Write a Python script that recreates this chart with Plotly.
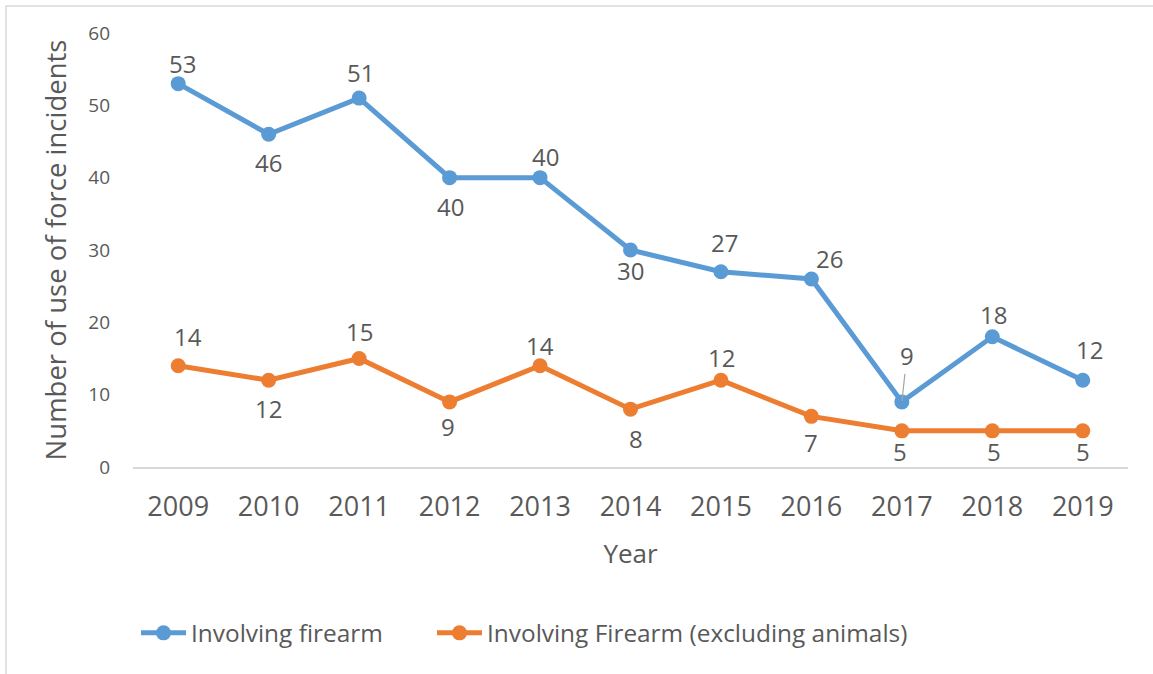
import plotly.graph_objects as go

# ---- data ----
years = ["2009", "2010", "2011", "2012", "2013", "2014",
         "2015", "2016", "2017", "2018", "2019"]
firearm = [53, 46, 51, 40, 40, 30, 27, 26, 9, 18, 12]
firearm_excl_animals = [14, 12, 15, 9, 14, 8, 12, 7, 5, 5, 5]
series_names = ["Involving firearm", "Involving Firearm (excluding animals)"]
y_ticks = [0, 10, 20, 30, 40, 50, 60]

# ---- label placement (pixel offsets dx, dy; negative dy = above the point) ----
firearm_label_offsets = [(4, -20), (0, 28), (1, -26), (1, 29), (5, -21), (0, 20),
                         (4, -29), (18, -20), (5, -46), (1, -22), (7, -31)]
excl_label_offsets = [(10, -29), (0, 28), (0, -27), (-2, 25), (0, -20), (5, 29),
                      (1, -23), (0, 26), (-2, 21), (2, 21), (0, 21)]

BLUE = "#5B9BD5"
ORANGE = "#ED7D31"
TEXT = "#595959"
AXIS = "#D9D9D9"
FONT = "Open Sans"

W, H = 1153, 674
L, R, T, B = 133, 25, 33, 207
PW, PH = W - L - R, H - T - B


def px_x(px):
    return (px - L) / PW


def px_y(py):
    return (H - B - py) / PH


fig = go.Figure()
for name, vals, color, leg in [(series_names[0], firearm, BLUE, "legend"),
                               (series_names[1], firearm_excl_animals, ORANGE, "legend2")]:
    fig.add_trace(go.Scatter(
        x=years, y=vals, name=name, mode="lines+markers",
        line=dict(color=color, width=5),
        marker=dict(color=color, size=15),
        cliponaxis=False, legend=leg,
    ))

annotations = []
for vals, offsets in [(firearm, firearm_label_offsets),
                      (firearm_excl_animals, excl_label_offsets)]:
    for i, (v, (dx, dy)) in enumerate(zip(vals, offsets)):
        ann = dict(x=i, y=v, text=str(v), xref="x", yref="y",
                   font=dict(family=FONT, size=24, color=TEXT))
        if abs(dy) > 40:
            # label pulled away from its point, joined by a leader line
            ann.update(showarrow=True, ax=dx, ay=dy, arrowhead=0,
                       arrowwidth=1.2, arrowcolor="#A6A6A6", standoff=1)
        else:
            ann.update(showarrow=False, xshift=dx, yshift=-dy)
        annotations.append(ann)

legend_style = dict(
    orientation="h", xanchor="left", y=px_y(633), yanchor="middle",
    font=dict(family=FONT, size=24.4, color=TEXT),
    itemwidth=45, bgcolor="rgba(0,0,0,0)",
)

fig.update_layout(
    width=W, height=H,
    margin=dict(l=L, r=R, t=T, b=B),
    paper_bgcolor="white", plot_bgcolor="white",
    font=dict(family=FONT, color=TEXT),
    annotations=annotations,
    showlegend=True,
    legend=dict(x=px_x(136), **legend_style),
    legend2=dict(x=px_x(432), **legend_style),
    xaxis=dict(
        type="category", range=[-0.5, len(years) - 0.5],
        showgrid=False, zeroline=False,
        showline=True, linecolor=AXIS, linewidth=1.5,
        ticks="", ticklabelstandoff=15,
        tickfont=dict(family=FONT, size=27, color=TEXT),
        title=dict(text="Year", standoff=22,
                   font=dict(family=FONT, size=26, color=TEXT)),
    ),
    yaxis=dict(
        range=[0, 60], tickvals=y_ticks,
        showgrid=False, zeroline=False, showline=False,
        ticks="", ticklabelstandoff=22,
        tickfont=dict(family=FONT, size=19, color=TEXT),
        title=dict(text="Number of use of force incidents", standoff=13,
                   font=dict(family=FONT, size=27.5, color=TEXT)),
    ),
    shapes=[dict(type="rect", xref="paper", yref="paper",
                 x0=px_x(6), x1=px_x(1170), y0=px_y(690), y1=px_y(6),
                 line=dict(color=AXIS, width=1.5), layer="below")],
)

fig.write_html("out.html")
